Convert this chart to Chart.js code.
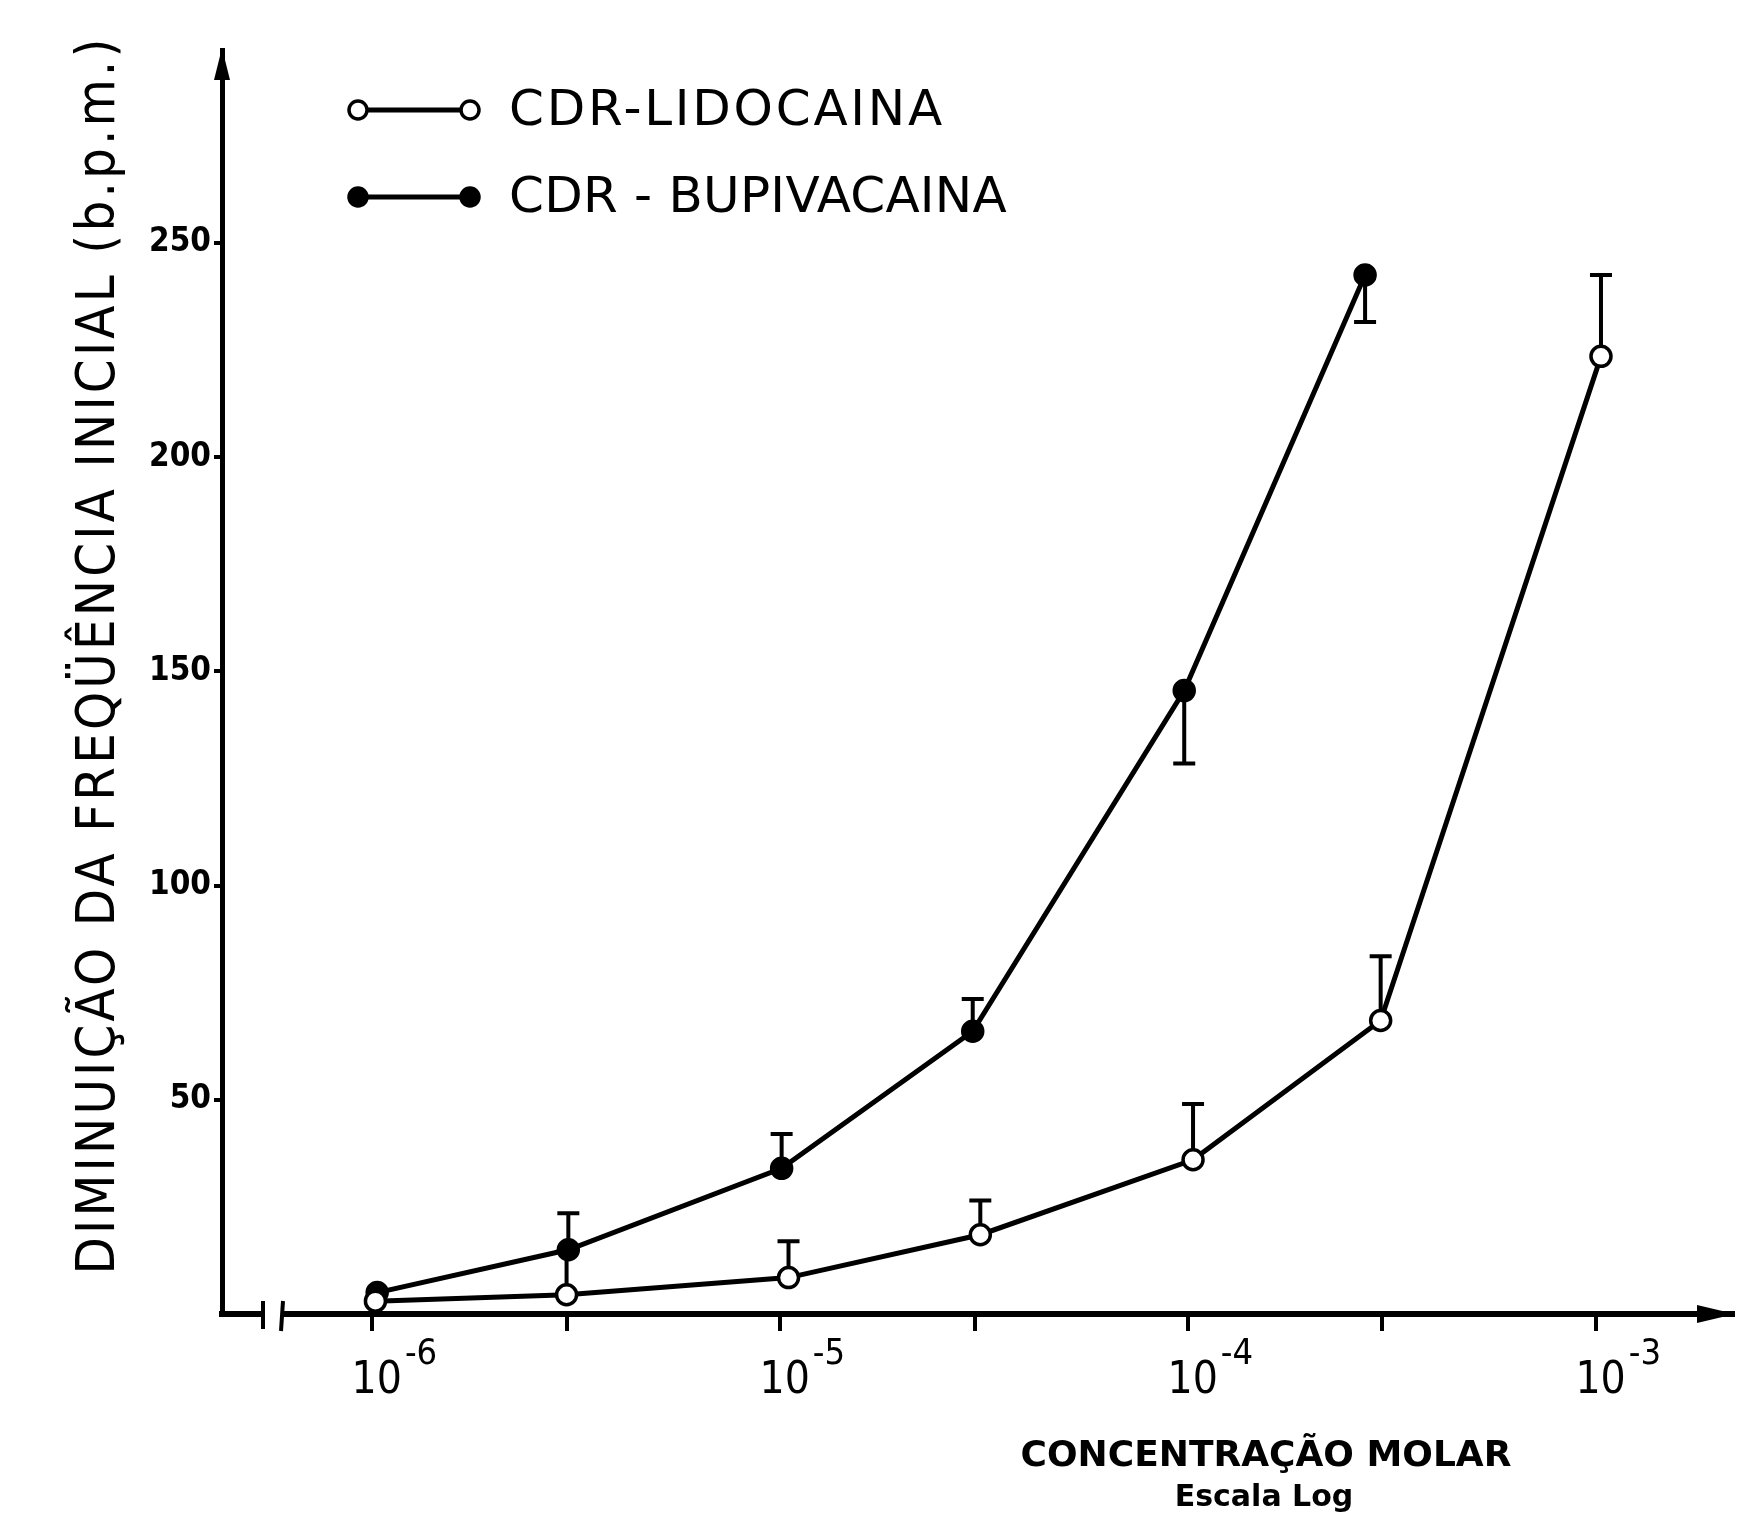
<!DOCTYPE html>
<html>
<head>
<meta charset="utf-8">
<script src="https://cdn.jsdelivr.net/npm/chart.js@4"></script>
<style>
  html, body { margin: 0; background: #fff; }
  #wrap { width: 1753px; height: 1517px; }
</style>
</head>
<body>
<div id="wrap"><canvas id="chart"></canvas></div>
<script>
// concentration (M) of each point
const concLido = [1.02e-6, 3e-6, 1.05e-5, 3.1e-5, 1.03e-4, 2.97e-4, 1.03e-3];
const lidoValues = [3, 4.5, 8.5, 18.5, 36, 68.5, 223.5];
// signed error bars: + goes up, - goes down
const lidoErr = [0, 10, 8.5, 8, 13, 15, 19];

const concBupi = [1.03e-6, 3.03e-6, 1.01e-5, 2.97e-5, 0.98e-4, 2.72e-4];
const bupiValues = [5, 15, 34, 66, 145.5, 242.5];
const bupiErr = [0, 8.5, 8, 7.5, -17, -11];

const xTicks = [1e-6, 3e-6, 1e-5, 3e-5, 1e-4, 3e-4, 1e-3];
const xTickExp = ['-6', '', '-5', '', '-4', '', '-3'];
const yTicks = [50, 100, 150, 200, 250];

const yTitle = 'DIMINUIÇÃO DA FREQÜÊNCIA INICIAL (b.p.m.)';
const xTitle = ['CONCENTRAÇÃO MOLAR', 'Escala Log'];
const legendLabels = ['CDR-LIDOCAINA', 'CDR - BUPIVACAINA'];

function toPoints(xs, ys) {
    return xs.map((x, i) => ({ x: x, y: ys[i] }));
}

// error bars, drawn under the markers
const errorBars = {
    id: 'errorBars',
    beforeDatasetsDraw(chart) {
        const ctx = chart.ctx;
        const xs = chart.scales.x;
        const ys = chart.scales.y;
        ctx.save();
        ctx.strokeStyle = '#000';
        ctx.lineWidth = 4;
        chart.data.datasets.forEach(ds => {
            ds.data.forEach((p, i) => {
                const e = ds.errors[i];
                if (!e) return;
                const px = xs.getPixelForValue(p.x);
                const y0 = ys.getPixelForValue(p.y);
                const y1 = ys.getPixelForValue(p.y + e);
                ctx.beginPath();
                ctx.moveTo(px, y0);
                ctx.lineTo(px, y1);
                ctx.moveTo(px - 11, y1);
                ctx.lineTo(px + 11, y1);
                ctx.stroke();
            });
        });
        ctx.restore();
    }
};

// arrows, axis break, tick labels with exponents, titles and legend
const decorations = {
    id: 'decorations',
    afterDraw(chart) {
        const ctx = chart.ctx;
        const a = chart.chartArea;
        const xs = chart.scales.x;
        ctx.save();
        ctx.fillStyle = '#000';
        ctx.strokeStyle = '#000';

        // y arrow
        ctx.beginPath();
        ctx.moveTo(a.left, a.top - 2);
        ctx.lineTo(a.left - 8, a.top + 30);
        ctx.lineTo(a.left + 8, a.top + 30);
        ctx.closePath();
        ctx.fill();

        // x arrow
        ctx.beginPath();
        ctx.moveTo(a.right + 2, a.bottom);
        ctx.lineTo(a.right - 36, a.bottom - 9);
        ctx.lineTo(a.right - 36, a.bottom + 9);
        ctx.closePath();
        ctx.fill();

        // axis break
        ctx.fillStyle = '#fff';
        ctx.fillRect(a.left + 42, a.bottom - 6, 18, 12);
        ctx.lineWidth = 4;
        ctx.beginPath();
        ctx.moveTo(a.left + 41, a.bottom - 13);
        ctx.lineTo(a.left + 41, a.bottom + 15);
        ctx.moveTo(a.left + 61, a.bottom - 13);
        ctx.lineTo(a.left + 59, a.bottom + 17);
        ctx.stroke();
        ctx.fillStyle = '#000';

        // x tick labels: 10 with a raised exponent
        xTicks.forEach((v, i) => {
            if (!xTickExp[i]) return;
            const px = xs.getPixelForValue(v);
            ctx.textBaseline = 'alphabetic';
            ctx.font = '44px "DejaVu Sans Condensed", "DejaVu Sans"';
            ctx.textAlign = 'right';
            ctx.fillText('10', px + 30, 1393);
            ctx.font = '36px "DejaVu Sans Condensed", "DejaVu Sans"';
            ctx.textAlign = 'left';
            ctx.fillText(xTickExp[i], px + 33, 1364);
        });

        // y title
        ctx.save();
        ctx.translate(100, 655);
        ctx.rotate(-Math.PI / 2);
        ctx.font = '54px "DejaVu Sans Condensed", "DejaVu Sans"';
        const w = ctx.measureText(yTitle).width;
        ctx.letterSpacing = ((1239 - w) / yTitle.length).toFixed(2) + 'px';
        ctx.textAlign = 'center';
        ctx.textBaseline = 'middle';
        ctx.fillText(yTitle, 0, 0);
        ctx.restore();

        // x title
        ctx.textAlign = 'center';
        ctx.textBaseline = 'middle';
        ctx.font = 'bold 36px "DejaVu Sans"';
        ctx.fillText(xTitle[0], 1266, 1457);
        ctx.font = 'bold 30px "DejaVu Sans"';
        ctx.fillText(xTitle[1], 1264, 1498);

        // legend
        const rows = [110, 197];
        const textWidths = [436, 498];
        ctx.font = '50px "DejaVu Sans"';
        ctx.textAlign = 'left';
        chart.data.datasets.forEach((ds, i) => {
            const y = rows[i];
            ctx.lineWidth = 5;
            ctx.beginPath();
            ctx.moveTo(358, y);
            ctx.lineTo(470, y);
            ctx.stroke();
            [358, 470].forEach(cx => {
                ctx.beginPath();
                ctx.arc(cx, y, 9, 0, Math.PI * 2);
                ctx.fillStyle = ds.pointBackgroundColor;
                ctx.fill();
                ctx.lineWidth = 3.5;
                ctx.stroke();
            });
            ctx.fillStyle = '#000';
            ctx.letterSpacing = '0px';
            const tw = ctx.measureText(legendLabels[i]).width;
            ctx.letterSpacing = ((textWidths[i] - tw) / legendLabels[i].length).toFixed(2) + 'px';
            ctx.fillText(legendLabels[i], 509, y + 2);
        });
        ctx.restore();
    }
};

new Chart(document.getElementById('chart'), {
    type: 'line',
    data: {
        datasets: [{
            label: legendLabels[0],
            data: toPoints(concLido, lidoValues),
            errors: lidoErr,
            borderColor: '#000',
            borderWidth: 5,
            pointRadius: 10,
            pointBorderWidth: 3.5,
            pointBorderColor: '#000',
            pointBackgroundColor: '#fff',
            tension: 0
        }, {
            label: legendLabels[1],
            data: toPoints(concBupi, bupiValues),
            errors: bupiErr,
            borderColor: '#000',
            borderWidth: 5,
            pointRadius: 10,
            pointBorderWidth: 3.5,
            pointBorderColor: '#000',
            pointBackgroundColor: '#000',
            tension: 0
        }]
    },
    options: {
        responsive: true,
        maintainAspectRatio: false,
        animation: false,
        clip: false,
        layout: { padding: { top: 50, right: 20, left: 0, bottom: 0 } },
        plugins: {
            legend: { display: false },
            tooltip: { enabled: false }
        },
        scales: {
            x: {
                type: 'logarithmic',
                bounds: 'data',
                min: 4.29e-7,
                max: 2.17e-3,
                afterBuildTicks: s => { s.ticks = xTicks.map(v => ({ value: v })); },
                afterFit: s => { s.height = 203; },
                grid: {
                    drawOnChartArea: false,
                    drawTicks: true,
                    tickLength: 17,
                    lineWidth: 4,
                    color: '#000'
                },
                border: { display: true, width: 6, color: '#000' },
                ticks: { display: false }
            },
            y: {
                type: 'linear',
                min: 0,
                max: 295,
                afterBuildTicks: s => { s.ticks = yTicks.map(v => ({ value: v })); },
                afterFit: s => { s.width = 222; },
                grid: {
                    drawOnChartArea: false,
                    drawTicks: true,
                    tickLength: 8,
                    lineWidth: 4,
                    color: '#000'
                },
                border: { display: true, width: 5, color: '#000' },
                ticks: {
                    padding: 3,
                    color: '#000',
                    font: { family: '"DejaVu Sans Condensed", "DejaVu Sans"', size: 33, weight: 'bold' }
                }
            }
        }
    },
    plugins: [errorBars, decorations]
});
</script>
</body>
</html>
